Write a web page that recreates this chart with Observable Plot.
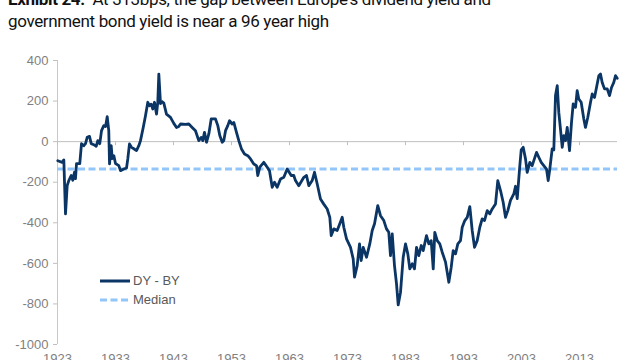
<!DOCTYPE html>
<html>
<head>
<meta charset="utf-8">
<script src="https://cdn.jsdelivr.net/npm/d3@7"></script>
<script src="https://cdn.jsdelivr.net/npm/@observablehq/plot@0.6"></script>
<style>
  html, body { margin: 0; padding: 0; background: #fff; width: 640px; height: 360px; overflow: hidden; }
  #title { height: 35px; overflow: visible; position: relative; }
  #title .inner { position: absolute; left: 8px; top: -12px; font-family: Roboto, "Liberation Sans", sans-serif; font-size: 17px; letter-spacing: -0.35px; line-height: 22px; color: #111; white-space: nowrap; }
  #wrap { position: relative; }
  #legend { position: absolute; left: 100px; top: 236px; font-family: "Liberation Sans", Arial, sans-serif; font-size: 13px; color: #595959; }
  #legend .row { display: flex; align-items: center; height: 19px; }
  #legend svg { margin-right: 3px; }
</style>
</head>
<body>
<div id="title"><div class="inner"><b>Exhibit 24:</b>&nbsp; At 313bps, the gap between Europe's dividend yield and<br>government bond yield is near a 96 year high</div></div>
<div id="wrap"><div id="chart"></div><div id="legend"></div></div>
<script>
const years = [1923.05,1923.81,1924.09,1924.38,1924.67,1924.95,1925.36,1925.64,1925.93,1926.10,1926.28,1926.84,1927.14,1927.53,1927.83,1928.12,1928.52,1928.81,1929.26,1929.67,1929.95,1930.29,1930.59,1930.98,1931.28,1931.57,1931.84,1931.97,1932.26,1932.43,1932.71,1933.00,1933.57,1933.86,1934.43,1934.90,1935.12,1935.41,1935.76,1936.16,1936.62,1937.02,1937.31,1937.78,1938.17,1938.57,1938.86,1939.16,1939.43,1939.72,1940.07,1940.29,1940.47,1940.76,1941.05,1941.33,1941.79,1942.48,1943.05,1943.52,1943.91,1944.21,1945.07,1945.64,1946.22,1946.79,1947.36,1947.78,1948.05,1948.34,1948.69,1949.09,1949.50,1950.24,1950.64,1950.98,1951.40,1951.67,1951.97,1952.36,1952.66,1953.12,1953.40,1953.86,1954.26,1954.72,1955.24,1955.81,1956.28,1956.84,1957.31,1957.53,1957.88,1958.57,1959.16,1959.55,1960.02,1960.41,1960.88,1961.45,1962.02,1962.60,1963.29,1963.74,1964.03,1964.60,1965.47,1965.93,1966.33,1966.91,1967.31,1967.78,1968.34,1968.91,1969.50,1969.95,1970.19,1970.64,1971.22,1971.67,1972.09,1972.36,1972.83,1973.52,1973.98,1974.21,1974.67,1975.07,1975.36,1975.71,1976.28,1976.84,1977.26,1977.66,1978.22,1978.69,1979.26,1979.72,1980.12,1980.41,1980.71,1981.10,1981.45,1981.74,1982.14,1982.60,1983.00,1983.40,1983.74,1984.16,1984.55,1984.90,1985.29,1985.71,1986.05,1986.62,1987.02,1987.43,1987.78,1988.05,1988.47,1988.91,1989.33,1989.90,1990.47,1990.88,1991.22,1991.62,1992.02,1992.48,1992.78,1993.22,1993.64,1994.09,1994.50,1994.90,1995.36,1995.81,1996.22,1996.62,1997.09,1997.53,1997.95,1998.52,1998.91,1999.38,1999.84,2000.24,2000.64,2001.10,2001.67,2001.97,2002.26,2002.71,2002.95,2003.29,2003.69,2003.98,2004.43,2004.84,2005.59,2005.98,2006.40,2006.84,2007.31,2007.60,2007.88,2008.29,2008.57,2008.86,2009.16,2009.43,2009.72,2010.02,2010.29,2010.59,2010.88,2011.28,2011.62,2011.91,2012.31,2012.60,2012.88,2013.29,2013.74,2014.03,2014.43,2014.90,2015.19,2015.59,2015.93,2016.33,2016.62,2016.91,2017.31,2017.78,2018.17,2018.52,2018.91,2019.21,2019.50];
const gapBps = [-94,-102,-90,-356,-217,-192,-167,-190,-151,-182,-108,-108,-10,-20,-10,21,26,-10,-15,-23,5,-10,54,79,74,123,54,-110,-20,-84,-69,-108,-118,-143,-135,-130,-85,-11,-28,-35,-44,-20,5,70,128,194,177,185,161,194,136,194,333,187,197,190,136,120,90,70,75,87,85,87,70,54,5,21,5,46,-3,38,112,112,79,30,-3,5,54,79,103,87,95,46,5,-36,-61,-69,-85,-110,-118,-167,-126,-102,-126,-143,-225,-200,-225,-184,-176,-135,-167,-167,-192,-217,-176,-167,-217,-192,-151,-209,-283,-308,-332,-373,-463,-430,-438,-405,-373,-422,-479,-521,-578,-668,-611,-504,-586,-521,-570,-504,-438,-405,-315,-365,-389,-430,-447,-562,-455,-611,-701,-805,-742,-570,-504,-553,-627,-602,-627,-521,-562,-512,-537,-463,-504,-488,-627,-447,-488,-504,-545,-594,-693,-619,-537,-553,-504,-488,-422,-389,-373,-320,-438,-521,-488,-422,-381,-389,-340,-356,-332,-307,-192,-241,-299,-373,-340,-290,-258,-220,-281,-118,-40,-28,-85,-151,-102,-118,-53,-77,-102,-118,-135,-192,-135,-36,-40,227,276,144,62,-28,30,5,70,-44,95,186,169,251,210,194,112,70,120,194,235,218,267,325,333,292,260,260,227,267,292,325,312];
const medianBps = -135;
const xTicks = [1923,1933,1943,1953,1963,1973,1983,1993,2003,2013];
const yTicks = [400,200,0,-200,-400,-600,-800,-1000];
const xDomain = [1923, 2019.55];
const yDomain = [-1000, 400];
const seriesNames = ["DY - BY", "Median"];
const lineColor = "#0b3564";
const medianColor = "#92c5f9";

const data = years.map((y, i) => ({year: y, gap: gapBps[i]}));

const chart = Plot.plot({
  width: 640,
  height: 325,
  marginTop: 25,
  marginBottom: 16,
  marginLeft: 57,
  marginRight: 23,
  style: {fontFamily: "'Liberation Sans', Arial, sans-serif", fontSize: "13px", color: "#7f7f7f", background: "#fff"},
  x: {domain: xDomain},
  y: {domain: yDomain},
  marks: [
    Plot.axisY({ticks: yTicks, tickSize: 4, tickPadding: 5, tickFormat: d => String(d), stroke: "#bfbfbf", fill: "#7f7f7f", label: null, fontSize: 13}),
    Plot.axisX({ticks: xTicks, tickSize: 0, tickPadding: 9, tickFormat: d => String(d), fill: "#7f7f7f", label: null, fontSize: 13}),
    Plot.ruleX([xDomain[0]], {stroke: "#c8c8c8", strokeWidth: 1}),
    Plot.ruleY([0], {stroke: "#bfbfbf", strokeWidth: 1}),
    Plot.ruleX(xTicks, {x: d => d, y1: 0, y2: 0, insetBottom: -4, stroke: "#bfbfbf"}),
    Plot.ruleY([medianBps], {stroke: medianColor, strokeWidth: 3, strokeDasharray: "7,3.5"}),
    Plot.line(data, {x: "year", y: "gap", stroke: lineColor, strokeWidth: 2.8, strokeLinejoin: "round"})
  ]
});
document.getElementById("chart").appendChild(chart);

const legend = document.getElementById("legend");
const swatches = [
  `<svg width="30" height="6"><line x1="0" y1="3" x2="30" y2="3" stroke="${lineColor}" stroke-width="3"/></svg>`,
  `<svg width="30" height="6"><line x1="0" y1="3" x2="30" y2="3" stroke="${medianColor}" stroke-width="3" stroke-dasharray="7,3.5"/></svg>`
];
legend.innerHTML = seriesNames.map((n, i) => `<div class="row">${swatches[i]}<span>${n}</span></div>`).join("");
</script>
</body>
</html>
